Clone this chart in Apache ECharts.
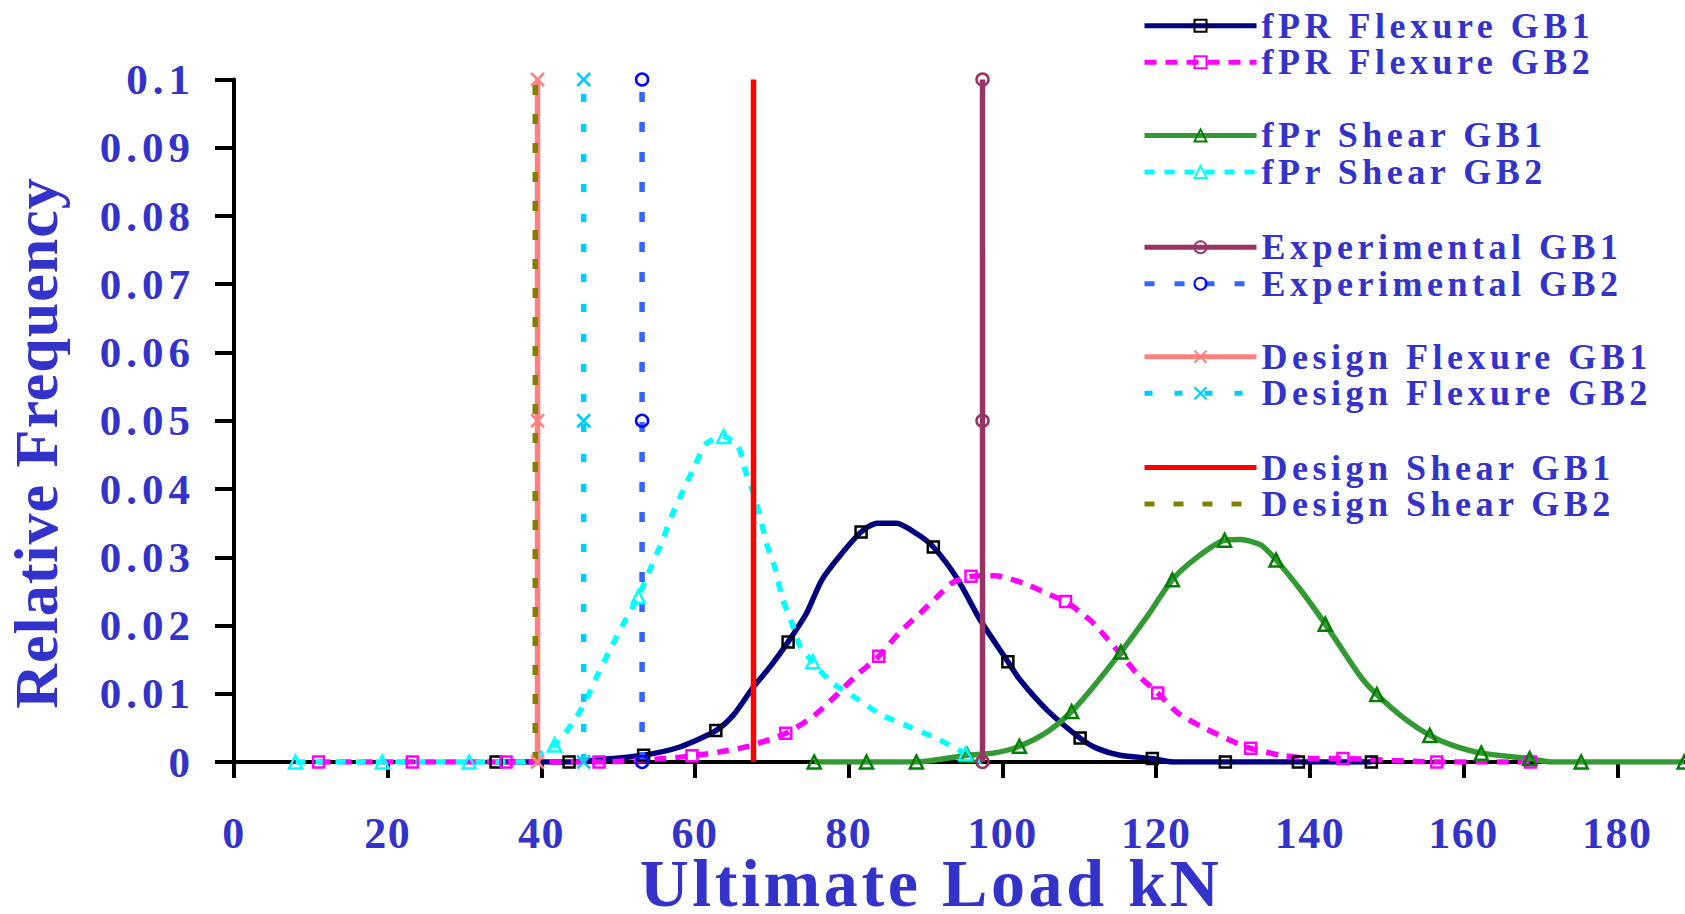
<!DOCTYPE html>
<html>
<head>
<meta charset="utf-8">
<script src="https://cdn.jsdelivr.net/npm/echarts@6/dist/echarts.min.js"></script>
<style>
html, body { margin: 0; padding: 0; background: #ffffff; }
#chart { width: 1685px; height: 914px; }
#chart text[style*="43px"] { letter-spacing: 5px; }
#chart text[style*="44px"] { letter-spacing: 1.5px; }
#chart text[style*="36px"] { letter-spacing: 4.5px; }
#chart text[style*="68px"] { letter-spacing: 3.6px; }
#chart text[style*="62px"] { letter-spacing: 1px; }
</style>
</head>
<body>
<div id="chart"></div>
<script>
// ---------------- data ----------------
const xTickLabels = ['0', '20', '40', '60', '80', '100', '120', '140', '160', '180'];
const yTickLabels = ['0', '0.01', '0.02', '0.03', '0.04', '0.05', '0.06', '0.07', '0.08', '0.09', '0.1'];

// fPR Flexure GB1
const fprFlexGB1X = [34.1, 43.6, 48.1, 53.3, 58.0, 62.7, 65.0, 67.6, 69.8, 72.1, 74.5, 76.5, 78.9, 81.6, 83.7, 86.2, 88.9, 91.0, 94.1, 97.1, 100.7, 102.3, 105.8, 110.1, 112.3, 115.3, 119.5, 122.2, 129.0, 138.5, 148.0];
const fprFlexGB1Y = [0, 0, 0.0004, 0.001, 0.0022, 0.0046, 0.0069, 0.011, 0.014, 0.0176, 0.0218, 0.0267, 0.0303, 0.0337, 0.035, 0.035, 0.0334, 0.0315, 0.0269, 0.0208, 0.0147, 0.012, 0.0076, 0.0035, 0.002, 0.001, 0.0005, 0, 0, 0, 0];
const fprFlexGB1Mark = [1,1,0,1,0,1,0,0,0,1,0,0,0,1,0,0,0,1,0,0,1,0,0,1,0,0,1,0,1,1,1];

// fPR Flexure GB2
const fprFlexGB2X = [11.0, 23.2, 35.4, 47.5, 55.9, 59.6, 63.3, 66.9, 71.8, 75.6, 78.2, 81.0, 83.9, 86.7, 89.3, 91.5, 93.4, 95.9, 99.0, 102.7, 106.2, 108.2, 111.4, 113.6, 115.7, 117.7, 120.2, 122.9, 126.4, 130.0, 132.3, 136.2, 140.8, 144.3, 156.5, 168.7];
const fprFlexGB2Y = [0, 0, 0, 0, 0.0005, 0.0009, 0.0015, 0.0023, 0.0042, 0.0069, 0.0096, 0.0127, 0.0155, 0.0191, 0.0218, 0.0242, 0.0262, 0.0272, 0.0273, 0.0262, 0.0245, 0.0235, 0.0208, 0.0181, 0.0154, 0.0127, 0.0101, 0.0071, 0.0049, 0.003, 0.002, 0.001, 0.0005, 0.0005, 0, 0];
const fprFlexGB2Mark = [1,1,1,1,0,1,0,0,1,0,0,0,1,0,0,0,0,1,0,0,0,1,0,0,0,0,1,0,0,0,1,0,0,1,1,1];

// fPr Shear GB1
const fprShearGB1X = [75.5, 82.3, 88.8, 95.4, 98.8, 102.2, 105.8, 109.0, 111.8, 115.4, 118.8, 122.1, 125.1, 128.9, 131.0, 133.6, 135.6, 138.8, 142.0, 146.6, 148.7, 152.5, 155.6, 158.4, 162.3, 168.6, 171.4, 175.3, 188.7];
const fprShearGB1Y = [0, 0, 0, 0.001, 0.0013, 0.0023, 0.0044, 0.0074, 0.011, 0.0161, 0.0213, 0.0267, 0.0298, 0.0325, 0.0326, 0.0318, 0.0296, 0.0252, 0.0202, 0.0125, 0.0099, 0.0062, 0.0039, 0.0025, 0.0013, 0.0005, 0, 0, 0];
const fprShearGB1Mark = [1,1,1,1,0,1,0,1,0,1,0,1,0,1,0,0,1,0,1,0,1,0,1,0,1,1,0,1,1];

// fPr Shear GB2
const fprShearGB2X = [8.0, 19.3, 30.6, 37.5, 39.5, 41.7, 44.2, 45.9, 47.2, 48.9, 50.6, 52.6, 54.4, 55.7, 57.0, 58.5, 60.0, 61.5, 63.7, 65.6, 66.5, 67.6, 68.5, 69.3, 70.4, 71.3, 72.6, 73.7, 75.3, 77.6, 81.0, 84.3, 88.0, 91.7, 95.2, 97.3];
const fprShearGB2Y = [0, 0, 0, 0, 0.001, 0.0025, 0.0059, 0.0093, 0.0125, 0.0164, 0.0201, 0.0242, 0.0289, 0.0323, 0.0362, 0.0399, 0.0435, 0.0467, 0.0477, 0.0462, 0.0428, 0.0394, 0.0357, 0.032, 0.0284, 0.0242, 0.0203, 0.0169, 0.0147, 0.0118, 0.0093, 0.0069, 0.0051, 0.0033, 0.0012, 0];
const fprShearGB2Mark = [1,1,1,0,0,1,0,0,0,0,0,1,0,0,0,0,0,0,1,0,0,0,0,0,0,0,0,0,1,0,0,0,0,0,1,0];

// vertical reference lines
const expGB1X = [97.4, 97.4, 97.4];
const expGB1Y = [0, 0.05, 0.1];
const expGB2X = [53.1, 53.1, 53.1];
const expGB2Y = [0, 0.05, 0.1];
const desFlexGB1X = [39.5, 39.5, 39.5];
const desFlexGB1Y = [0, 0.05, 0.1];
const desFlexGB2X = [45.5, 45.5, 45.5];
const desFlexGB2Y = [0, 0.05, 0.1];
const desShearGB1X = [67.6, 67.6];
const desShearGB1Y = [0, 0.1];
const desShearGB2X = [39.2, 39.2];
const desShearGB2Y = [0, 0.1];

const legendGroups = [
  ['fPR Flexure GB1', 'fPR Flexure GB2'],
  ['fPr Shear GB1', 'fPr Shear GB2'],
  ['Experimental GB1', 'Experimental GB2'],
  ['Design Flexure GB1', 'Design Flexure GB2'],
  ['Design Shear GB1', 'Design Shear GB2']
];

// ---------------- chart ----------------
const FONT = '"Liberation Serif", "Times New Roman", serif';
const TXT = '#3333CC';
const CROSS = 'path://M0 0L10 10M10 0L0 10';

function pts(xs, ys, marks) {
  return xs.map((x, i) => (marks && !marks[i]) ? { value: [x, ys[i]], symbol: 'none' } : [x, ys[i]]);
}

function curveSeries(name, xs, ys, marks, lineColor, dash, symbol, markColor, size) {
  return {
    name: name, type: 'line', data: pts(xs, ys, marks),
    smooth: 0.25,
    symbol: symbol, symbolSize: size, showAllSymbol: true,
    lineStyle: { color: lineColor, width: 5.5, type: dash || 'solid', cap: 'butt' },
    itemStyle: { color: 'rgba(255,255,255,0)', borderColor: markColor, borderWidth: 2.5 },
    emphasis: { disabled: true }
  };
}

function vSeries(name, xs, ys, lineColor, dash, symbol, markColor, size, cross) {
  return {
    name: name, type: 'line', data: pts(xs, ys, null),
    symbol: symbol, symbolSize: size, showSymbol: !!markColor,
    lineStyle: { color: lineColor, width: 5.5, type: dash || 'solid', cap: 'butt' },
    itemStyle: markColor
      ? { color: cross ? markColor : 'rgba(255,255,255,0)', borderColor: markColor, borderWidth: 2.5 }
      : { color: 'rgba(255,255,255,0)', borderColor: 'rgba(255,255,255,0)', borderWidth: 0 },
    emphasis: { disabled: true }
  };
}

const legendTops = [7.8, 117.4, 229.2, 338.8, 449.5];

const chart = echarts.init(document.getElementById('chart'), null, { renderer: 'svg' });
chart.setOption({
  animation: false,
  backgroundColor: '#ffffff',
  grid: { left: 234, top: 79.5, right: -86, bottom: 152, containLabel: false, outerBoundsMode: 'none' },
  xAxis: {
    type: 'value', min: 0, max: 200, interval: 20,
    axisLine: { show: true, onZero: false, lineStyle: { color: '#000', width: 4 } },
    axisTick: { show: true, length: 16, lineStyle: { color: '#000', width: 4 } },
    axisLabel: {
      margin: 49, fontFamily: FONT, fontWeight: 'bold', fontSize: 44, color: TXT,
      showMaxLabel: false,
      formatter: (v, i) => (i < xTickLabels.length ? xTickLabels[i] : '')
    },
    splitLine: { show: false }
  },
  yAxis: {
    type: 'value', min: 0, max: 0.1, interval: 0.01,
    axisLine: { show: true, lineStyle: { color: '#000', width: 4 } },
    axisTick: { show: true, length: 19, lineStyle: { color: '#000', width: 4 } },
    axisLabel: {
      margin: 39, fontFamily: FONT, fontWeight: 'bold', fontSize: 43, color: TXT,
      formatter: (v, i) => yTickLabels[i]
    },
    splitLine: { show: false }
  },
  legend: legendGroups.map((names, i) => ({
    orient: 'vertical', left: 1142, top: legendTops[i], padding: 0,
    itemWidth: 112, itemHeight: 15, itemGap: 0.5, selectedMode: false,
    data: names,
    lineStyle: { width: 5 },
    textStyle: { fontFamily: FONT, fontWeight: 'bold', fontSize: 36, color: TXT }
  })),
  graphic: [
    {
      type: 'text', x: 36, y: 443, rotation: Math.PI / 2,
      style: { text: 'Relative Frequency', fontFamily: FONT, fontWeight: 'bold', fontSize: 62, fill: TXT, align: 'center', verticalAlign: 'middle' }
    },
    {
      type: 'text', x: 931, y: 883,
      style: { text: 'Ultimate Load kN', fontFamily: FONT, fontWeight: 'bold', fontSize: 68, fill: TXT, align: 'center', verticalAlign: 'middle' }
    }
  ],
  series: [
    curveSeries('fPR Flexure GB1', fprFlexGB1X, fprFlexGB1Y, fprFlexGB1Mark, '#000080', null, 'rect', '#000000', 11),
    curveSeries('fPR Flexure GB2', fprFlexGB2X, fprFlexGB2Y, fprFlexGB2Mark, '#FF00FF', [12, 9], 'rect', '#FF00FF', 11),
    curveSeries('fPr Shear GB1', fprShearGB1X, fprShearGB1Y, fprShearGB1Mark, '#339933', null, 'triangle', '#008000', 13),
    curveSeries('fPr Shear GB2', fprShearGB2X, fprShearGB2Y, fprShearGB2Mark, '#00FFFF', [10, 10], 'triangle', '#00FFFF', 13),
    vSeries('Experimental GB1', expGB1X, expGB1Y, '#993366', null, 'circle', '#993366', 12, false),
    vSeries('Experimental GB2', expGB2X, expGB2Y, '#3366FF', [10, 20], 'circle', '#0000FF', 12, false),
    vSeries('Design Flexure GB1', desFlexGB1X, desFlexGB1Y, '#FF8080', null, CROSS, '#FF8080', 13, true),
    vSeries('Design Flexure GB2', desFlexGB2X, desFlexGB2Y, '#00CCFF', [8, 22], CROSS, '#00CCFF', 13, true),
    vSeries('Design Shear GB1', desShearGB1X, desShearGB1Y, '#FF0000', null, 'rect', null, 1, false),
    vSeries('Design Shear GB2', desShearGB2X, desShearGB2Y, '#808000', [10, 19], 'rect', null, 1, false)
  ]
});
</script>
</body>
</html>
